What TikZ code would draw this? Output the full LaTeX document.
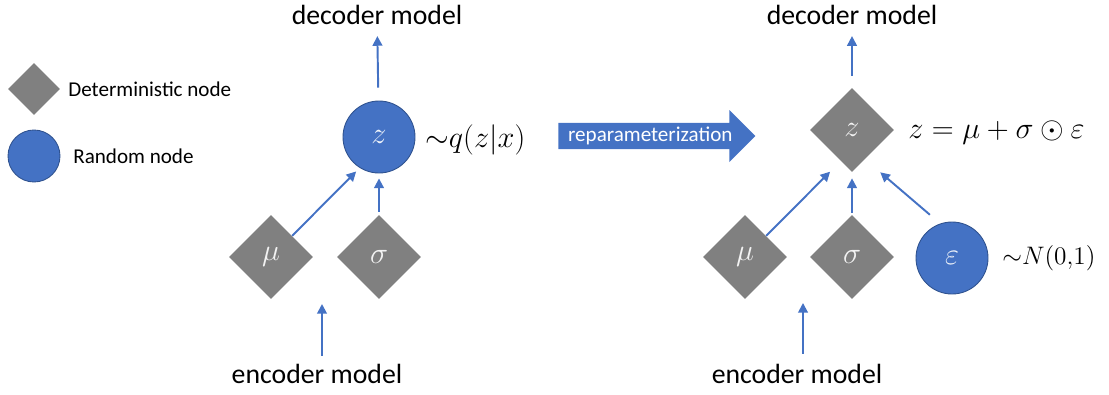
\documentclass[tikz,border=0pt]{standalone}
\usepackage[no-math]{fontspec}
\setmainfont{Carlito}
\usepackage{xcolor}
\usepackage{tikz}
\usetikzlibrary{arrows.meta,shapes.geometric,shapes.arrows}

\definecolor{nodeblue}{RGB}{68,114,196}
\definecolor{nodeedge}{RGB}{47,82,143}
\definecolor{nodegray}{RGB}{128,128,128}

\tikzset{
    detnode/.style={diamond, fill=nodegray, inner sep=0pt,
        minimum size=1.68cm, text=white!90!gray,
        font=\fontsize{16}{18}\selectfont},
    randnode/.style={circle, fill=nodeblue, draw=nodeedge, line width=0.5pt,
        inner sep=0pt, minimum size=1.44cm, text=white!92!nodeblue,
        font=\fontsize{16}{18}\selectfont},
    flow/.style={draw=nodeblue, line width=1.1pt,
        -{Triangle[length=5.5pt,width=5.5pt]}},
    modeltext/.style={font=\fontsize{15.8}{18}\selectfont, inner sep=0pt},
    legendtext/.style={font=\fontsize{12}{14}\selectfont, inner sep=0pt, anchor=west},
    mathtext/.style={font=\fontsize{16.2}{19}\selectfont, inner sep=0pt, anchor=west},
}

\begin{document}
\begin{tikzpicture}
        \useasboundingbox (0,0) rectangle (22.18,-7.88);

        % Legend
        \node [detnode, minimum size=1.04cm] (legdet) at (0.68,-1.78) {};
        \node [legendtext] (legdettext) at (1.36,-1.78) {Deterministic node};
        \node [randnode, minimum size=1.04cm] (legrand) at (0.68,-3.12) {};
        \node [legendtext] (legrandtext) at (1.46,-3.12) {Random node};

        % Left graph
        \node [modeltext] (decoderleft) at (7.54,-0.3) {decoder model};
        \node [randnode] (zleft) at (7.58,-2.74) {$z$};
        \node [mathtext] (qlabel) at (8.5,-2.8) {${\sim}q(z|x)$};
        \node [detnode] (muleft) at (5.42,-5.14) {$\mu$};
        \node [detnode] (sigmaleft) at (7.58,-5.14) {$\sigma$};
        \node [modeltext] (encoderleft) at (6.34,-7.48) {encoder model};
        \coordinate (inleft) at (6.44,-6.08);

        \draw[flow, shorten <=0.26cm, shorten >=0.22cm] (zleft) -- (decoderleft);
        \draw[flow, shorten >=0.1cm] (muleft.north east) -- (zleft.238);
        \draw[flow, shorten <=0.06cm, shorten >=0.1cm] (sigmaleft) -- (zleft);
        \draw[flow, shorten <=0.16cm] (encoderleft.north -| inleft) -- (inleft);

        % Reparameterization
        \node [single arrow, fill=nodeblue, text=white,
            font=\fontsize{12}{14}\selectfont,
            minimum height=3.94cm,
            minimum width=1.04cm,
            single arrow head extend=0.25cm,
            inner xsep=2pt, inner ysep=0.07cm,
            anchor=tail,
        ] (reparam) at (11.16,-2.72) {reparameterization};

        % Right graph
        \node [modeltext] (decoderright) at (17.04,-0.3) {decoder model};
        \node [detnode] (zright) at (17.04,-2.6) {$z$};
        \node [mathtext] (zlabel) at (18.16,-2.66) {$z=\mu+\sigma\odot\varepsilon$};
        \node [detnode] (muright) at (14.9,-5.14) {$\mu$};
        \node [detnode] (sigmaright) at (17.04,-5.14) {$\sigma$};
        \node [randnode] (epsright) at (19.04,-5.16) {$\varepsilon$};
        \node [mathtext, font=\fontsize{14.6}{17}\selectfont] (nlabel) at (20.04,-5.16) {${\sim}N(0{,}1)$};
        \node [modeltext] (encoderright) at (15.94,-7.48) {encoder model};
        \coordinate (inright) at (16.06,-6.06);

        \draw[flow, shorten <=0.24cm, shorten >=0.22cm] (zright) -- (decoderright);
        \draw[flow, shorten >=0.3cm] (muright.north east) -- (zright.250);
        \draw[flow, shorten <=0.04cm, shorten >=0.12cm] (sigmaright) -- (zright);
        \draw[flow, shorten <=0.27cm, shorten >=0.4cm] (epsright.109) -- (zright.294);
        \draw[flow, shorten <=0.2cm] (encoderright.north -| inright) -- (inright);
\end{tikzpicture}
\end{document}
